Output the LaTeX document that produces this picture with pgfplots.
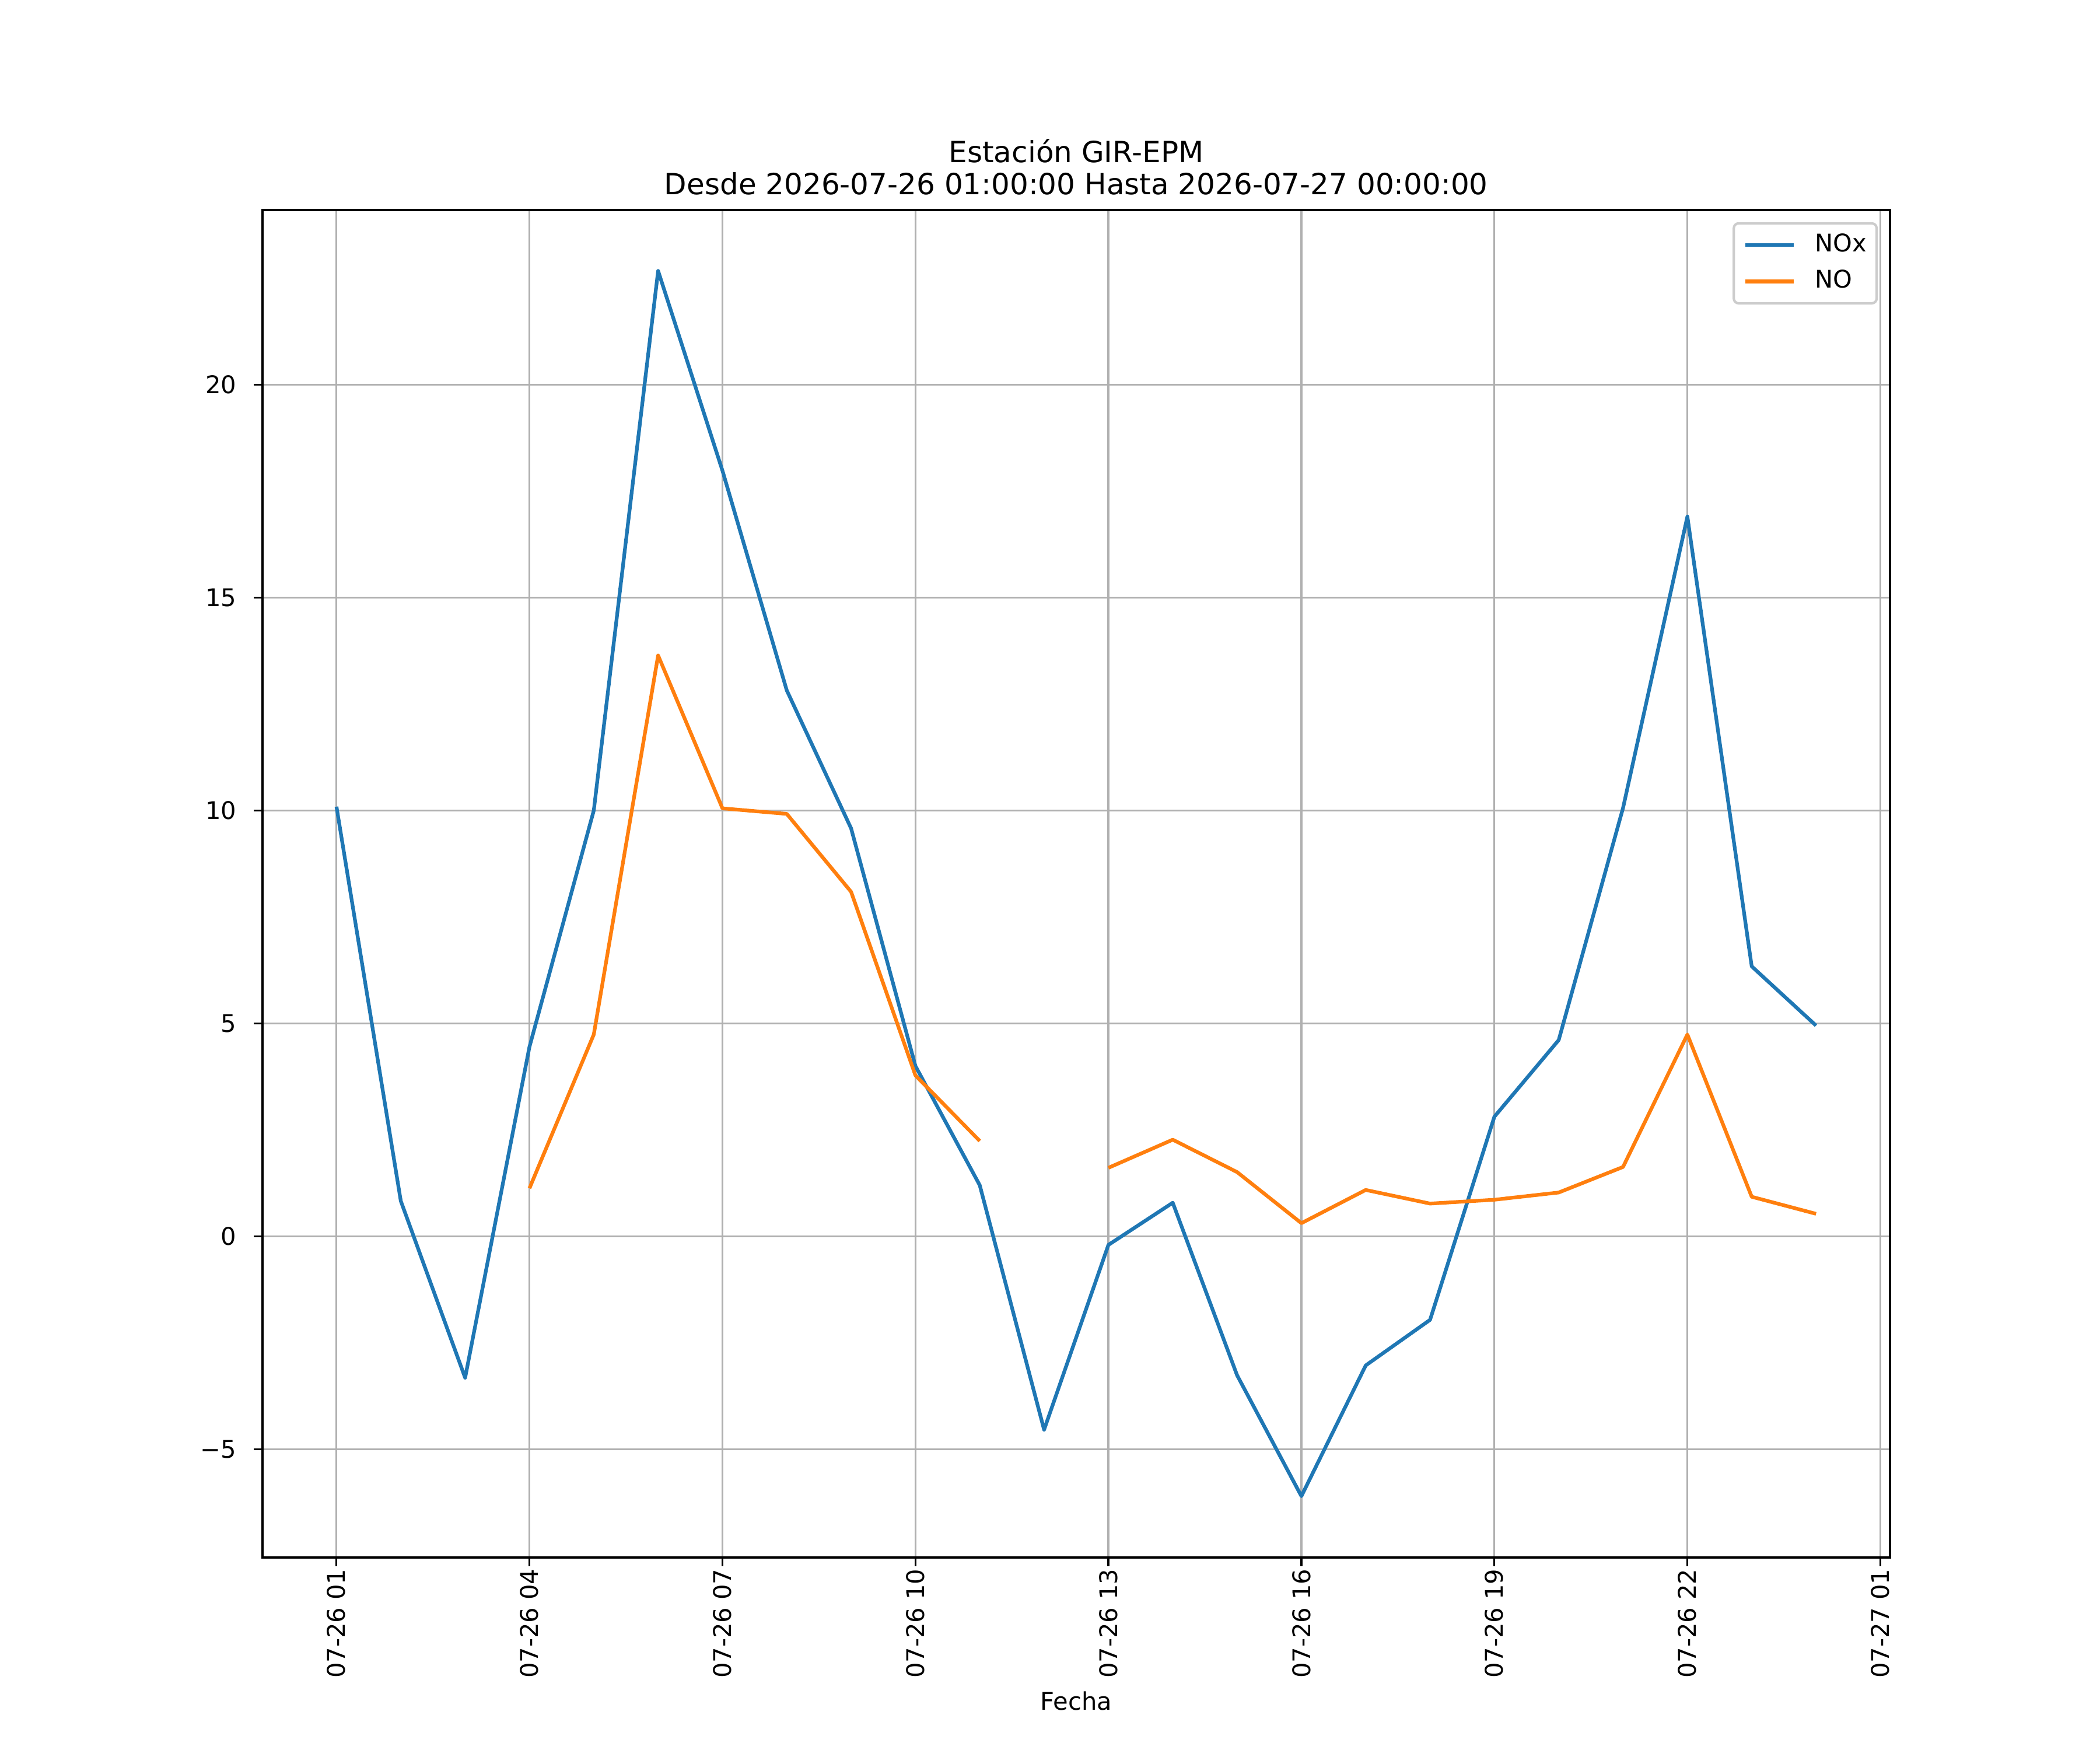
\documentclass[border=0pt]{standalone}
\usepackage{fontspec}
\setmainfont{DejaVu Sans}
\usepackage{pgfplots}
\pgfplotsset{compat=1.18}
\definecolor{cnox}{HTML}{1F77B4}
\definecolor{cno}{HTML}{FF7F0E}
\definecolor{gridgray}{HTML}{B0B0B0}
\definecolor{legframe}{HTML}{CCCCCC}
\begin{document}
\begin{tikzpicture}
\begin{axis}[
  at={(0,0)}, anchor=south west,
  scale only axis,
  width=9.3in, height=7.7in,
  xmin=-0.15, xmax=25.15,
  ymin=-7.54, ymax=24.1,
  axis line style={line width=0.8bp, black},
  tick pos=left,
  tick align=outside,
  major tick length=3.5bp,
  tick style={line width=0.8bp, black},
  grid=major,
  grid style={color=gridgray, line width=0.8bp},
  xtick={1,4,7,10,13,16,19,22,25},
  xticklabels={07-26 01,07-26 04,07-26 07,07-26 10,07-26 13,07-26 16,07-26 19,07-26 22,07-27 01},
  ytick={-5,0,5,10,15,20},
  yticklabels={−5,0,5,10,15,20},
  ticklabel style={font=\fontsize{10bp}{12bp}\selectfont, inner sep=0pt},
  xticklabel style={rotate=90, anchor=east},
  yticklabel style={anchor=east},
  xticklabel shift=1bp,
  yticklabel shift=7bp,
  xlabel={Fecha},
  xlabel style={at={(axis description cs:0.5,0)}, anchor=north, yshift=-55bp, inner sep=0pt, font=\fontsize{10bp}{12bp}\selectfont},
  every axis title shift=0pt,
  title={Estación GIR-EPM\\Desde 2026-07-26 01:00:00 Hasta 2026-07-27 00:00:00},
  title style={at={(axis description cs:0.5,1)}, anchor=south, yshift=6bp, inner sep=0pt, align=center, font=\fontsize{12bp}{13.2bp}\selectfont},
  unbounded coords=jump,
  legend cell align=left,
  legend image code/.code={\draw[#1] (0bp,0bp) -- (20bp,0bp);},
  legend style={at={(axis description cs:1,1)}, anchor=north east, xshift=-5bp, yshift=-5bp,
    draw=legframe, line width=1bp, rounded corners=2bp, fill=white, fill opacity=0.8, text opacity=1,
    inner xsep=4bp, inner ysep=4bp, row sep=5bp, column sep=8bp,
    font=\fontsize{10bp}{12bp}\selectfont,
    nodes={inner sep=0pt, text height=7.6bp, text depth=2.35bp}},
]
\addplot[color=cnox, line width=1.5bp, line join=round] coordinates {
(1,10.09) (2,0.83) (3,-3.32) (4,4.45) (5,10.0) (6,22.67) (7,17.98) (8,12.82)
(9,9.58) (10,4.0) (11,1.2) (12,-4.54) (13,-0.2) (14,0.79) (15,-3.26) (16,-6.1)
(17,-3.03) (18,-1.96) (19,2.81) (20,4.61) (21,10.06) (22,16.9) (23,6.34) (24,4.95)
};
\addlegendentry{NOx}
\addplot[color=cno, line width=1.5bp, line join=round] coordinates {
(4,1.13) (5,4.74) (6,13.64) (7,10.05) (8,9.92) (9,8.09) (10,3.78) (11,2.24)
(12,nan) (13,1.61) (14,2.27) (15,1.51) (16,0.31) (17,1.09) (18,0.77) (19,0.86)
(20,1.03) (21,1.63) (22,4.74) (23,0.93) (24,0.53)
};
\addlegendentry{NO}
\end{axis}
\path (current axis.south west) ++(-1.5in,-1.1in) rectangle ++(12in,10in);
\end{tikzpicture}
\end{document}
